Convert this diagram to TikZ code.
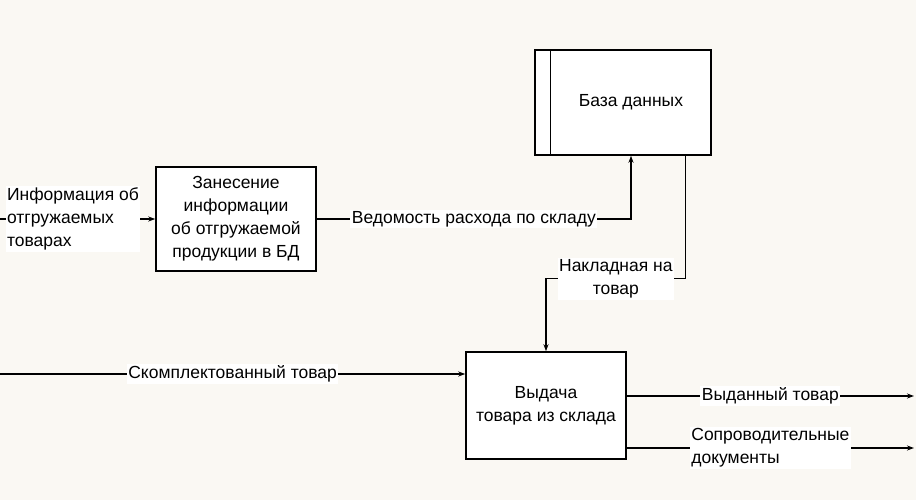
\documentclass[tikz,border=0pt]{standalone}
\usepackage{fontspec}
\setmainfont{Liberation Sans}
\usetikzlibrary{arrows.meta,positioning,calc}
\definecolor{paper}{RGB}{250,248,243}
\tikzset{
  >={Stealth[length=7pt,width=5pt]},
  func/.style={draw,line width=1.5pt,fill=white,minimum width=160pt,
    minimum height=104pt,align=center,inner sep=0pt},
  lbl/.style={fill=white,inner sep=1.5pt,align=#1},
  lbl/.default=left,
  flow/.style={->,line width=1.2pt},
}

\begin{document}
\begin{tikzpicture}[x=1pt,y=-1pt,font=\fontsize{17.5}{23}\selectfont]
    \fill[paper] (0,0) rectangle (916,500);
    \useasboundingbox (0,0) rectangle (916,500);
    % activities
    \node[func] (enter) at (236,219) {Занесение\\информации\\об отгружаемой\\продукции в БД};
    \node[func,minimum height=107pt] (issue) at (546,405.5) {Выдача\\товара из склада};
    % data store
    \node[func,minimum width=176pt,minimum height=105pt] (db) at (623,102.5) {};
    \draw[line width=1.5pt] ($(db.north west)+(16,0)$) -- ($(db.south west)+(16,0)$);
    \node (dbname) at (631,102) {База данных};
    % flows
    \coordinate (info) at (0,219);
    \draw[flow] (info) -- node[lbl,pos=0.47] {Информация об\\отгружаемых\\товарах} (enter.west);
    \draw[flow] (enter.east) -| node[lbl,pos=0.25] {Ведомость расхода по складу} (dbname |- db.south);
    \coordinate (dbout) at ($(db.south east)+(-26,0)$);
    \draw[flow] (dbout) -- ++(0,123) -| node[lbl=center,pos=0.25] {Накладная на\\товар} (issue.north);
    \coordinate (kit) at (0,374);
    \draw[flow] (kit) -- node[lbl] {Скомплектованный товар} (kit -| issue.west);
    \coordinate (out1) at (914,396);
    \draw[flow] (issue.east |- out1) -- node[lbl] {Выданный товар} (out1);
    \coordinate (out2) at (914,448);
    \draw[flow] (issue.east |- out2) -- node[lbl] {Сопроводительные\\документы} (out2);
\end{tikzpicture}
\end{document}
